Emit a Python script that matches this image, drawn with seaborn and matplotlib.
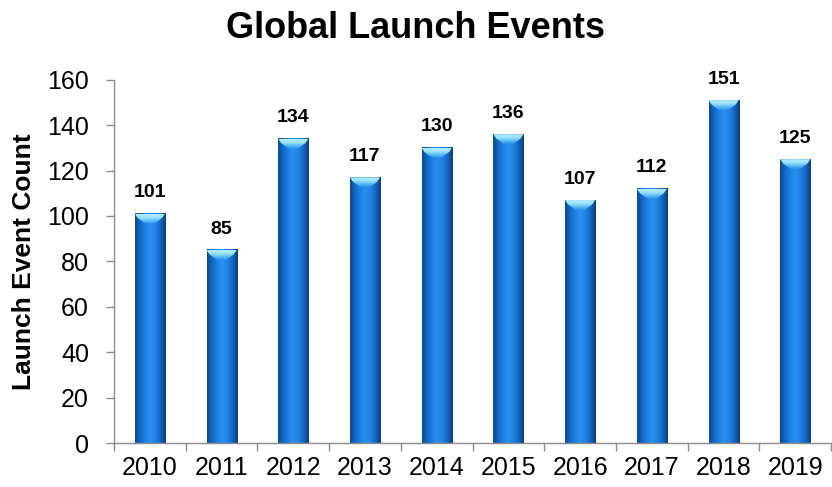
import numpy as np
import pandas as pd
import matplotlib
matplotlib.use("Agg")
import matplotlib.pyplot as plt
from matplotlib.colors import LinearSegmentedColormap
from matplotlib.patches import Polygon
from matplotlib.ticker import FixedLocator
import seaborn as sns

years = ["2010", "2011", "2012", "2013", "2014", "2015", "2016", "2017", "2018", "2019"]
launches = [101, 85, 134, 117, 130, 136, 107, 112, 151, 125]
y_ticks = [0, 20, 40, 60, 80, 100, 120, 140, 160]

df = pd.DataFrame({"year": years, "count": launches})

sns.set_theme(style="white")
plt.rcParams["font.family"] = ["Liberation Sans", "DejaVu Sans"]
plt.rcParams["text.color"] = "black"
plt.rcParams["axes.labelcolor"] = "black"
plt.rcParams["xtick.labelcolor"] = "black"
plt.rcParams["ytick.labelcolor"] = "black"

fig = plt.figure(figsize=(8.32, 4.87), dpi=100)
ax = fig.add_axes([0.137, 0.0903, 0.862, 0.746])

sns.barplot(data=df, x="year", y="count", ax=ax, width=0.42,
            color="#1f7fe0", saturation=1, edgecolor="none")

# Shaded bar bodies with a bevelled top
body_cmap = LinearSegmentedColormap.from_list(
    "body", ["#0b4a95", "#1569c8", "#1e82e6", "#2b8fef", "#1f82e4", "#1565c2", "#0a3f82"])
top_cmap = LinearSegmentedColormap.from_list("top", ["#2a8eea", "#5cbdf4", "#9ee2fb", "#b4eefd"])
grad_h = np.linspace(0, 1, 64).reshape(1, -1)
grad_v = np.linspace(0, 1, 32).reshape(-1, 1)
bevel = 4.4
for p in ax.patches:
    x0, w, h = p.get_x(), p.get_width(), p.get_height()
    p.set_facecolor("none")
    ax.imshow(grad_h, cmap=body_cmap, extent=(x0, x0 + w, 0, h),
              aspect="auto", zorder=2, interpolation="bicubic")
    inset = w * 0.36
    poly = Polygon([(x0, h), (x0 + w, h), (x0 + w - w * 0.1, h - bevel * 0.45),
                    (x0 + w - inset, h - bevel), (x0 + inset, h - bevel),
                    (x0 + w * 0.1, h - bevel * 0.45)], closed=True,
                   facecolor="none", edgecolor="none", zorder=3)
    ax.add_patch(poly)
    im = ax.imshow(grad_v, cmap=top_cmap, extent=(x0, x0 + w, h - bevel, h),
                   aspect="auto", zorder=3, interpolation="bicubic", origin="lower")
    im.set_clip_path(poly)
    ax.annotate(f"{h:.0f}", (x0 + w / 2, h), xytext=(0, 9),
                textcoords="offset points", ha="center", va="bottom",
                fontsize=14, fontweight="bold", color="black")

ax.set_xlim(-0.5, len(years) - 0.5)
ax.set_ylim(0, 160)
ax.set_yticks(y_ticks)
ax.set_yticklabels([str(t) for t in y_ticks], fontsize=18)
ax.tick_params(axis="x", which="major", length=0, pad=9, labelsize=18)
ax.xaxis.set_minor_locator(FixedLocator(np.arange(-0.5, len(years), 1.0)))
ax.tick_params(axis="x", which="minor", bottom=True, length=6, width=1, color="#8c8c8c", direction="out")
ax.tick_params(axis="y", left=True, length=6, width=1, color="#8c8c8c", direction="out", pad=12)

for s in ["top", "right"]:
    ax.spines[s].set_visible(False)
for s in ["left", "bottom"]:
    ax.spines[s].set_color("#8c8c8c")
    ax.spines[s].set_linewidth(1)

ax.set_xlabel("")
ax.set_ylabel("Launch Event Count", fontsize=19, fontweight="bold", labelpad=8)
fig.text(0.5, 0.942, "Global Launch Events", ha="center", va="center",
         fontsize=26, fontweight="bold")

fig.savefig("out.png", dpi=100)
